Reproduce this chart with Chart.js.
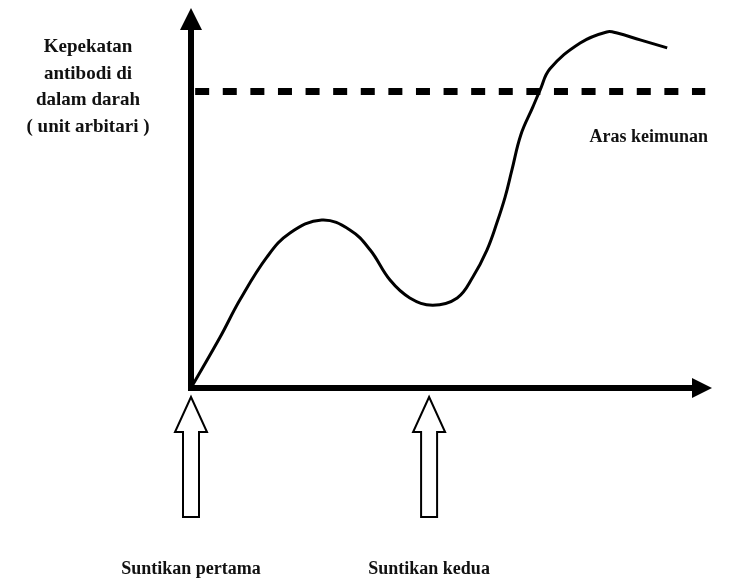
<!DOCTYPE html>
<html>
<head>
<meta charset="utf-8">
<script src="https://cdn.jsdelivr.net/npm/chart.js@4.4.0/dist/chart.umd.min.js"></script>
<style>
    body { margin: 0; background: #fff; }
    canvas { display: block; }
</style>
</head>
<body>
<canvas id="antibodyChart" width="739" height="582"></canvas>
<script>
// Antibody readings (time and level both in arbitrary units, 0-100)
var timePoints = [0, 5.6, 9.4, 14.6, 19.0, 25.1, 30.5, 34.4, 38.2, 42.0, 46.4, 51.1, 54.1, 56.8, 58.7, 60.3, 61.6, 63.3, 65.6, 67.0, 68.9, 74.7, 79.8, 81.8, 86.2, 91.4];
var antibodyLevels = [0, 13.4, 23.2, 34.5, 40.8, 44.2, 41.6, 36.3, 28.4, 23.7, 21.8, 23.7, 29.2, 36.3, 43.4, 50.3, 57.4, 66.6, 73.9, 78.4, 84.0, 90.8, 93.7, 93.4, 91.6, 89.5];

var immunityLevel = 78;
var immunityRange = [0.8, 98.7];
var immunityLabel = 'Aras keimunan';

var injectionTimes = [0, 45.7];
var injectionLabels = ['Suntikan pertama', 'Suntikan kedua'];

var yAxisTitle = ['Kepekatan', 'antibodi di', 'dalam darah', '( unit arbitari )'];

var FONT = 'bold 18px "Liberation Serif", "Times New Roman", serif';
var TITLE_FONT = 'bold 19px "Liberation Serif", "Times New Roman", serif';

// Hand-drawn style axes, injection arrows and labels
var sketchPlugin = {
    id: 'sketchPlugin',
    beforeDatasetsDraw: function(chart) {
        var ctx = chart.ctx;
        var area = chart.chartArea;
        var x0 = chart.scales.x.getPixelForValue(0);
        var y0 = chart.scales.y.getPixelForValue(0);
        ctx.save();
        ctx.fillStyle = '#000';
        ctx.strokeStyle = '#000';
        ctx.lineWidth = 6;

        // vertical axis with arrow head
        ctx.beginPath();
        ctx.moveTo(x0, y0 + 3);
        ctx.lineTo(x0, area.top + 20);
        ctx.stroke();
        ctx.beginPath();
        ctx.moveTo(x0, area.top);
        ctx.lineTo(x0 - 11, area.top + 22);
        ctx.lineTo(x0 + 11, area.top + 22);
        ctx.closePath();
        ctx.fill();

        // horizontal axis with arrow head
        ctx.beginPath();
        ctx.moveTo(x0 - 3, y0);
        ctx.lineTo(area.right - 18, y0);
        ctx.stroke();
        ctx.beginPath();
        ctx.moveTo(area.right, y0);
        ctx.lineTo(area.right - 20, y0 - 10);
        ctx.lineTo(area.right - 20, y0 + 10);
        ctx.closePath();
        ctx.fill();
        ctx.restore();
    },
    afterDraw: function(chart) {
        var ctx = chart.ctx;
        var y0 = chart.scales.y.getPixelForValue(0);
        ctx.save();

        ctx.font = FONT;
        ctx.textBaseline = 'alphabetic';

        // injection arrows (hollow) with labels below
        injectionTimes.forEach(function(t, i) {
            var px = chart.scales.x.getPixelForValue(t);
            var tip = y0 + 9, shoulder = y0 + 44, bottom = y0 + 129;
            ctx.lineWidth = 2;
            ctx.strokeStyle = '#000';
            ctx.fillStyle = '#fff';
            ctx.beginPath();
            ctx.moveTo(px, tip);
            ctx.lineTo(px + 16, shoulder);
            ctx.lineTo(px + 8, shoulder);
            ctx.lineTo(px + 8, bottom);
            ctx.lineTo(px - 8, bottom);
            ctx.lineTo(px - 8, shoulder);
            ctx.lineTo(px - 16, shoulder);
            ctx.closePath();
            ctx.fill();
            ctx.stroke();

            ctx.fillStyle = '#111';
            ctx.textAlign = 'center';
            ctx.fillText(injectionLabels[i], px, 574);
        });

        // immunity level label
        ctx.fillStyle = '#111';
        ctx.textAlign = 'right';
        ctx.fillText(immunityLabel, 708, 142);

        // y axis title
        ctx.font = TITLE_FONT;
        ctx.textAlign = 'center';
        yAxisTitle.forEach(function(line, i) {
            ctx.fillText(line, 88, 52 + i * 26.5);
        });
        ctx.restore();
    }
};

var curveData = timePoints.map(function(t, i) {
    return { x: t, y: antibodyLevels[i] };
});

var immunityData = immunityRange.map(function(t) {
    return { x: t, y: immunityLevel };
});

var ctx = document.getElementById('antibodyChart').getContext('2d');
var antibodyChart = new Chart(ctx, {
    type: 'line',
    data: {
        datasets: [{
            label: 'Kepekatan antibodi',
            data: curveData,
            borderColor: '#000',
            borderWidth: 3,
            pointRadius: 0,
            fill: false,
            tension: 0.4
        }, {
            label: immunityLabel,
            data: immunityData,
            borderColor: '#000',
            borderWidth: 7,
            borderDash: [14, 13.6],
            borderCapStyle: 'butt',
            pointRadius: 0,
            fill: false
        }]
    },
    options: {
        responsive: false,
        animation: false,
        layout: {
            padding: { left: 191, right: 27, top: 8, bottom: 194 }
        },
        plugins: {
            legend: { display: false },
            tooltip: { enabled: false }
        },
        scales: {
            x: { type: 'linear', min: 0, max: 100, display: false },
            y: { min: 0, max: 100, display: false }
        }
    },
    plugins: [sketchPlugin]
});
</script>
</body>
</html>
